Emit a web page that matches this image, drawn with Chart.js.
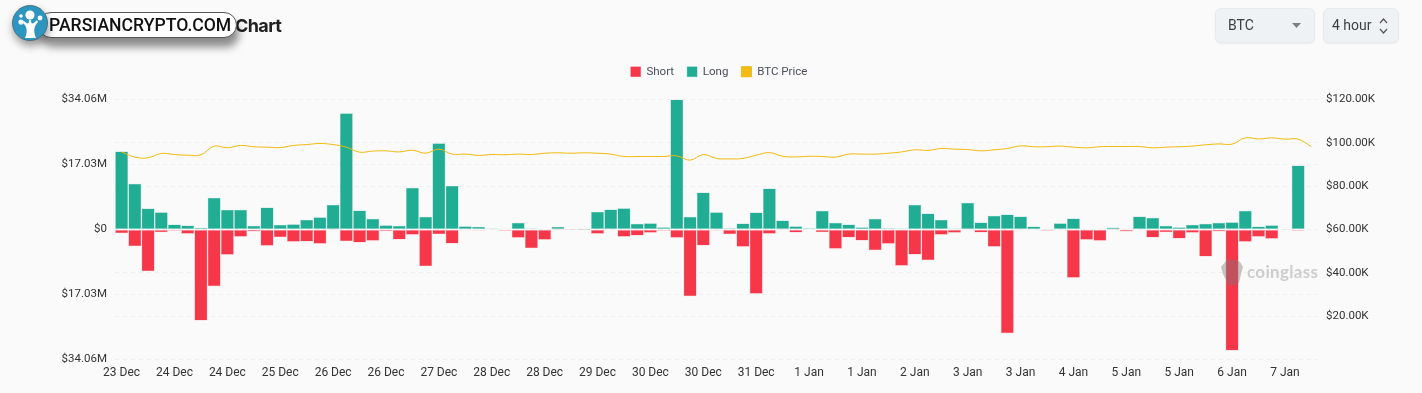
<!DOCTYPE html>
<html>
<head>
<meta charset="utf-8">
<title>Liquidation Chart</title>
<script src="https://cdn.jsdelivr.net/npm/chart.js@4/dist/chart.umd.min.js"></script>
<style>
    html, body { margin: 0; padding: 0; background: #fafafa; }
    body { width: 1422px; height: 393px; position: relative; overflow: hidden; font-family: Roboto, sans-serif; }
    canvas { position: absolute; left: 0; top: 0; }
    .title { position: absolute; left: 235px; top: 14px; font: 700 18px/24px Inter, sans-serif; letter-spacing: -0.6px; color: #222; }
    .pill { position: absolute; left: 38px; top: 12px; width: 197px; height: 24px; background: #fff; border: 1px solid #555; border-radius: 13px; box-shadow: 2px 9px 9px rgba(0,0,0,.45); }
    .pill span { position: absolute; left: 10px; top: 0; font: 500 17.6px/25px Roboto, sans-serif; color: #111; white-space: nowrap; }
    .logo { position: absolute; left: 12px; top: 5px; width: 36px; height: 36px; filter: drop-shadow(1px 5px 4px rgba(0,0,0,.4)); }
    .select { position: absolute; top: 8px; height: 35px; box-sizing: border-box; background: #eff2f5; border: 1px solid #e6e9ed; border-radius: 6px; font: 400 14px/33px Roboto, sans-serif; color: #3b3f45; box-shadow: 0 1px 2px rgba(0,0,0,.06); }
    .select.coin { left: 1215px; width: 100px; padding-left: 12px; }
    .select.period { left: 1323px; width: 76px; padding-left: 8px; }
    .select svg { position: absolute; }
    .watermark { position: absolute; left: 1220px; top: 259px; width: 100px; height: 28px; opacity: .42; pointer-events: none; }
    .watermark span { position: absolute; left: 27px; top: 1px; font: 700 17px/24px Lato, sans-serif; color: #8f8f8f; letter-spacing: .3px; }
</style>
</head>
<body>
<canvas id="liqChart" width="1422" height="393"></canvas>

<div class="title">Chart</div>
<div class="pill"><span>PARSIANCRYPTO.COM</span></div>
<svg class="logo" viewBox="0 0 36 36">
    <circle cx="18" cy="18" r="17.5" fill="#2c96c1" stroke="#44606e" stroke-width=".8"/>
    <path d="M13 33 C16 26 15 21 10 17 L12 16 C15 19 17 20 17 15 L19 15 C19 20 21 19 25 15 L26 17 C22 21 21 26 24 33 Z" fill="#fff"/>
    <circle cx="18" cy="10" r="4.6" fill="#fff"/><circle cx="9" cy="17" r="2.6" fill="#fff"/>
    <circle cx="9" cy="11" r="1.8" fill="#fff"/><circle cx="28" cy="13" r="2.4" fill="#fff"/>
</svg>

<div class="select coin">BTC
    <svg style="left:76px;top:14px" width="9" height="5"><path d="M0 0H9L4.5 5Z" fill="#7b8087"/></svg>
</div>
<div class="select period">4 hour
    <svg style="left:55px;top:8px" width="9" height="18" fill="none" stroke="#555" stroke-width="1.2"><path d="M1 6L4.5 2L8 6M1 12L4.5 16L8 12"/></svg>
</div>

<div class="watermark">
    <svg style="position:absolute;left:0;top:0" width="24" height="28" viewBox="0 0 24 28"><path d="M6 2L9 0L16 1L20 3L23 8L21 15L19 24L15 26L8 26L6 21L3 15L1 8Z" fill="#777"/></svg>
    <span>coinglass</span>
</div>

<script>
// one bar every 4 hours, one date label every 4 bars
const tickLabels = ['23 Dec', '24 Dec', '24 Dec', '25 Dec', '26 Dec', '26 Dec', '27 Dec', '28 Dec', '28 Dec', '29 Dec', '30 Dec', '30 Dec',
    '31 Dec', '1 Jan', '1 Jan', '2 Jan', '3 Jan', '3 Jan', '4 Jan', '5 Jan', '5 Jan', '6 Jan', '7 Jan'];

// $M
const longValues = [20.44, 11.97, 5.50, 4.54, 1.31, 1.05, 0.44, 8.30, 5.15, 5.15, 0.96, 5.76, 1.22, 1.40, 2.53, 3.23, 6.46, 30.48, 4.98, 2.79,
    1.14, 0.96, 10.92, 3.32, 22.62, 11.44, 0.87, 0.70, 0.26, 0.17, 1.75, 0.26, 0.09, 0.70, 0.05, 0.03, 4.63, 5.24, 5.59, 1.48,
    1.66, 0.61, 34.06, 3.32, 9.69, 4.54, 0.35, 1.57, 4.45, 10.74, 2.36, 0.87, 0.35, 4.89, 1.75, 1.31, 0.61, 2.79, 0.35, 0.26,
    6.46, 4.19, 2.53, 0.26, 6.99, 1.83, 3.58, 3.93, 3.41, 0.79, 0.09, 1.66, 2.88, 0.09, 0.17, 0.52, 0.17, 3.41, 3.06, 0.96,
    0.61, 1.22, 1.48, 1.75, 1.92, 4.89, 0.79, 1.14, 0.09, 16.77, 0];

const shortValues = [-0.96, -4.37, -10.92, -0.70, -0.35, -1.14, -23.84, -14.85, -6.64, -1.92, -0.52, -4.28, -2.01, -3.23, -3.14, -3.76, -0.05, -3.06, -3.41, -2.97,
    -0.44, -2.62, -1.40, -9.61, -1.22, -3.67, -0.17, -0.26, -0.09, -0.35, -2.18, -4.89, -2.71, -0.02, -0.03, -0.02, -1.14, 0, -1.92, -1.57,
    -0.87, -0.35, -2.18, -17.47, -4.19, -0.26, -1.22, -4.54, -16.86, -1.14, -0.09, -0.79, 0, -0.70, -5.07, -2.10, -2.88, -5.41, -3.76, -9.52,
    -6.55, -8.03, -1.40, -0.87, 0, -0.79, -4.54, -27.16, -0.17, -0.09, -0.35, -0.17, -12.66, -2.71, -2.97, -0.02, -0.52, 0, -2.10, -0.70,
    -2.36, -0.87, -7.07, -0.52, -31.70, -3.23, -1.92, -2.45, -0.09, -0.35, 0];

// $K
const priceValues = [95.8, 93.4, 93.1, 95.1, 94.6, 94.3, 94.5, 98.5, 97.7, 98.8, 98.2, 98.0, 97.8, 98.8, 99.2, 99.7, 99.2, 98.0, 95.7, 96.2,
    96.3, 95.8, 96.6, 95.2, 97.1, 94.8, 94.8, 94.2, 94.6, 94.5, 94.8, 94.6, 95.2, 95.4, 95.2, 95.4, 95.2, 94.8, 93.7, 93.7,
    93.7, 93.7, 94.0, 92.0, 94.6, 92.8, 92.6, 92.8, 94.3, 95.5, 93.8, 93.5, 93.8, 93.7, 93.4, 94.8, 94.8, 94.8, 95.2, 95.8,
    96.8, 96.5, 97.4, 97.1, 96.9, 96.3, 96.8, 97.4, 98.6, 98.2, 98.2, 98.5, 98.0, 97.7, 98.2, 98.3, 98.3, 98.3, 97.7, 98.0,
    98.2, 98.5, 99.1, 99.5, 99.4, 102.3, 101.8, 102.3, 101.7, 101.7, 98.2];

const leftTicks = [-34.06, -17.03, 0, 17.03, 34.06];
const leftTickLabels = ['$34.06M', '$17.03M', '$0', '$17.03M', '$34.06M'];
const rightTicks = [0, 20, 40, 60, 80, 100, 120];
const rightTickLabels = ['', '$20.00K', '$40.00K', '$60.00K', '$80.00K', '$100.00K', '$120.00K'];

const labels = priceValues.map((v, i) => tickLabels[Math.floor(i / 4)]);

const tickFont = { family: 'Roboto', size: 11.5 };
const gridStyle = { color: '#efefef', lineWidth: 1, drawTicks: false };

// extra room under the legend
const legendGap = {
    id: 'legendGap',
    beforeInit(chart) {
        const fit = chart.legend.fit;
        chart.legend.fit = function () {
            fit.call(this);
            this.height += 12;
        };
    }
};

new Chart(document.getElementById('liqChart').getContext('2d'), {
    plugins: [legendGap],
    data: {
        labels: labels,
        datasets: [
            { type: 'bar', label: 'Short', data: shortValues, yAxisID: 'y', order: 1, backgroundColor: '#f63649', borderColor: 'rgba(246,54,73,.4)', borderWidth: 0.5, borderSkipped: false, categoryPercentage: 1, barPercentage: 0.98 },
            { type: 'bar', label: 'Long', data: longValues, yAxisID: 'y', order: 1, backgroundColor: '#20ad94', borderColor: 'rgba(32,173,148,.45)', borderWidth: 0.5, borderSkipped: false, categoryPercentage: 1, barPercentage: 0.98 },
            { type: 'line', label: 'BTC Price', data: priceValues, yAxisID: 'y1', order: 0, borderColor: '#f0b90b', backgroundColor: '#f3bc14', borderWidth: 1, pointRadius: 0, tension: 0.4 }
        ]
    },
    options: {
        responsive: false,
        animation: false,
        layout: { padding: { left: 16, right: 0, top: 53, bottom: 10 } },
        plugins: {
            tooltip: { enabled: false },
            legend: {
                position: 'top',
                labels: {
                    boxWidth: 10, boxHeight: 10, padding: 13, color: '#4a4f57', font: { family: 'Roboto', size: 11.5 },
                    sort: (a, b) => a.datasetIndex - b.datasetIndex
                }
            }
        },
        scales: {
            x: {
                stacked: true,
                grid: { display: false, drawTicks: false },
                border: { display: false },
                ticks: {
                    autoSkip: false, maxRotation: 0, padding: 6, color: '#333', font: { family: 'Roboto', size: 12 },
                    callback: (v, i) => i % 4 === 0 ? tickLabels[i / 4] : ''
                },
                afterFit: s => { s.height = 23.5; }
            },
            y: {
                stacked: true, min: -34.06, max: 34.06, position: 'left',
                grid: Object.assign({ }, gridStyle),
                border: { display: false, dash: [4, 4] },
                ticks: { padding: 8, color: '#333', font: tickFont, callback: v => leftTickLabels[leftTicks.indexOf(v)] },
                afterBuildTicks: s => { s.ticks = leftTicks.map(v => ({ value: v })); },
                afterFit: s => { s.width = 99; }
            },
            y1: {
                min: 0, max: 120, position: 'right',
                grid: Object.assign({ }, gridStyle),
                border: { display: false, dash: [4, 4] },
                ticks: { padding: 8, color: '#333', font: tickFont, callback: v => rightTickLabels[rightTicks.indexOf(v)] },
                afterBuildTicks: s => { s.ticks = rightTicks.map(v => ({ value: v })); },
                afterFit: s => { s.width = 104; }
            }
        }
    }
});
</script>
</body>
</html>
